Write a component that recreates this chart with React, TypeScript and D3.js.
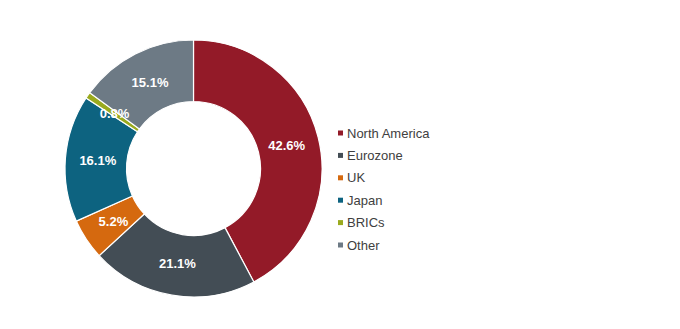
import React from "react";
import * as d3 from "d3";

const categories = ["North America", "Eurozone", "UK", "Japan", "BRICs", "Other"];
const values = [42.6, 21.1, 5.2, 16.1, 0.8, 15.1];
const colors = ["#931a28", "#434d55", "#d5690f", "#0d6380", "#9aaa1e", "#6d7a85"];

export default function App() {
  const W = 680, H = 329;
  const cx = 193.5, cy = 168.5, R = 128.5, r = 67;
  const data = categories.map((c, i) => ({ c, v: values[i], col: colors[i] }));
  const pie = d3.pie<any>().sort(null).value((d) => d.v);
  const arcs = pie(data);
  const arc = d3.arc<any>().innerRadius(r).outerRadius(R);
  const labelArc = d3.arc<any>().innerRadius(96).outerRadius(96);
  const legendY = d3.scalePoint<string>().domain(categories).range([133, 245]);
  return (
    <svg width={W} height={H} style={{ position: "absolute", left: 0, top: 0 }}
      fontFamily="'Liberation Sans', Arial, sans-serif">
      <rect width={W} height={H} fill="#fff" />
      <g transform={`translate(${cx},${cy})`}>
        {arcs.map((a, i) => (
          <path key={i} d={arc(a) as string} fill={a.data.col} stroke="#fff" strokeWidth={1.2} />
        ))}
        {arcs.map((a, i) => {
          const [x, y] = labelArc.centroid(a);
          return (
            <text key={"l" + i} x={x} y={y} dy="0.35em" textAnchor="middle" fill="#fff"
              fontSize={13} fontWeight="bold">
              {a.data.v.toFixed(1)}%
            </text>
          );
        })}
      </g>
      {categories.map((c, i) => (
        <g key={"g" + i} transform={`translate(338,${legendY(c)})`}>
          <rect x={0} y={-2.5} width={5} height={5} fill={colors[i]} />
          <text x={9} y={0} dy="0.35em" fontSize={13} fill="#404040">{c}</text>
        </g>
      ))}
    </svg>
  );
}
